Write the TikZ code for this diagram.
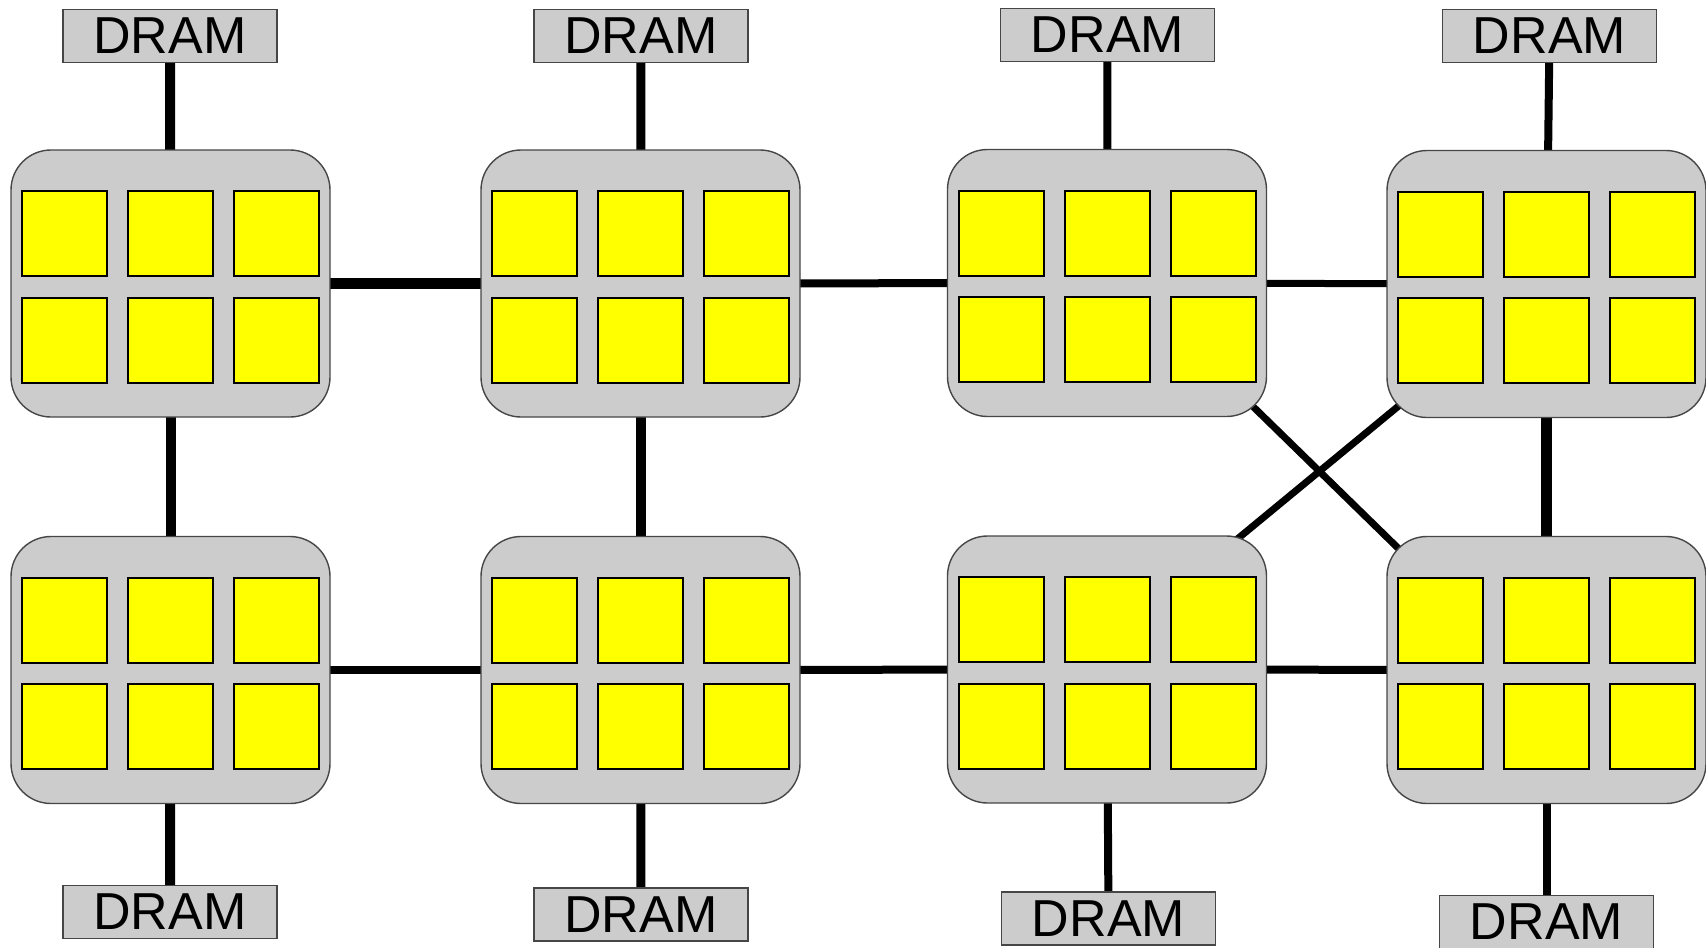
\documentclass[tikz,border=0pt]{standalone}
\usepackage{fontspec}
\setmainfont{Liberation Sans}
\usetikzlibrary{backgrounds,calc}
\definecolor{clgray}{RGB}{204,204,204}
\definecolor{edgegray}{RGB}{70,70,70}
\definecolor{coreyel}{RGB}{255,255,0}
\tikzset{
  cluster/.style={draw=edgegray, line width=1.4pt, fill=clgray, rounded corners=40pt,
    minimum width=319pt, minimum height=267pt, inner sep=0pt},
  core/.style={draw=black, line width=2pt, fill=coreyel,
    minimum width=85pt, minimum height=85pt, inner sep=0pt},
  dram/.style={draw=edgegray, line width=1.4pt, fill=clgray,
    minimum width=214pt, minimum height=53pt, inner sep=0pt,
    font=\fontsize{52}{60}\selectfont, text=black},
  wire/.style={draw=black, line width=#1},
}
\begin{document}
\begin{tikzpicture}[x=1pt,y=-1pt]
\useasboundingbox (0,0) rectangle (1706,948);
% clusters
\foreach \n/\cx/\cy in {c1t/170.5/283.5, c2t/640.5/283.5, c3t/1107/283, c4t/1546.5/284,
                        c1b/170.5/670, c2b/640.5/670, c3b/1107/669.5, c4b/1546.5/670}{
  \node[cluster] (\n) at (\cx,\cy) {};
  \foreach \i/\dx in {1/-106,2/0,3/106}{
    \foreach \j/\dy in {1/-50,2/56.5}{
      \node[core] (\n-\i\j) at ($(\n.center)+(\dx,\dy)$) {};
    }
  }
}
% DRAM boxes
\node[dram] (d1t) at (170,36) {DRAM};
\node[dram] (d2t) at (641,36) {DRAM};
\node[dram] (d3t) at (1107.5,35) {DRAM};
\node[dram] (d4t) at (1549.5,36) {DRAM};
\node[dram] (d1b) at (170,912) {DRAM};
\node[dram] (d2b) at (641,914.5) {DRAM};
\node[dram] (d3b) at (1108.5,918.5) {DRAM};
\node[dram] (d4b) at (1546.5,922) {DRAM};
% connectors
\begin{scope}[on background layer]
  \draw[wire=10pt] (d1t.center) -- (c1t.center);
  \draw[wire=9pt] (d2t.center) -- (c2t.center);
  \draw[wire=8pt] (d3t.center) -- (c3t.center);
  \draw[wire=8pt] (d4t.center) -- (c4t.center);
  \draw[wire=11pt] (c1t.center) -- (c2t.center);
  \draw[wire=8pt] (c2t.center) -- (c3t.center);
  \draw[wire=7pt] (c3t.center) -- (c4t.center);
  \draw[wire=10pt] (c1t.center) -- (c1b.center);
  \draw[wire=10pt] (c2t.center) -- (c2b.center);
  \draw[wire=11pt] (c4t.center) -- (c4b.center);
  \draw[wire=8pt] (c1b.center) -- (c2b.center);
  \draw[wire=8pt] (c2b.center) -- (c3b.center);
  \draw[wire=8pt] (c3b.center) -- (c4b.center);
  \draw[wire=10pt] (c1b.center) -- (d1b.center);
  \draw[wire=9pt] (c2b.center) -- (d2b.center);
  \draw[wire=8pt] (c3b.center) -- (d3b.center);
  \draw[wire=8pt] (c4b.center) -- (d4b.center);
  \draw[wire=7pt] ($(c3t.center)+(0,-19)$) -- ($(c4b.center)+(0,23)$);
  \draw[wire=7pt] (c4t.center) -- ($(c3b.center)+(0,-23)$);
\end{scope}
\end{tikzpicture}
\end{document}
